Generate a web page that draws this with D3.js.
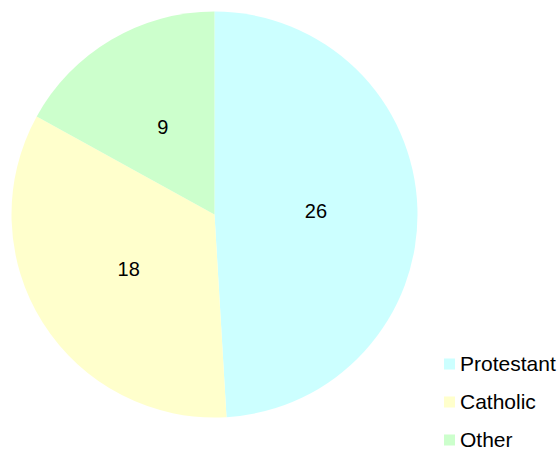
<!DOCTYPE html>
<html>
<head>
<meta charset="utf-8">
<script src="https://cdn.jsdelivr.net/npm/d3@7"></script>
<style>
  html, body { margin: 0; padding: 0; background: #fff; }
  svg text { font-family: "Liberation Sans", Arial, sans-serif; fill: #000; }
</style>
</head>
<body>
<svg id="chart"></svg>
<script>
'use strict';

var categories = ['Protestant', 'Catholic', 'Other'];
var values = [26, 18, 9];
var colors = ['#ccffff', '#ffffcc', '#ccffcc'];

var WIDTH = 558,
  HEIGHT = 453,
  CENTER = { x: 214.5, y: 214.5 },
  RADIUS = 203;

var svg = d3.select('#chart')
  .attr('width', WIDTH)
  .attr('height', HEIGHT);

var data = categories.map(function(c, i) {
  return { name: c, value: values[i], color: colors[i] };
});

var pie = d3.pie()
  .sort(null)
  .value(function(d) { return d.value; });

var arc = d3.arc()
  .innerRadius(0)
  .outerRadius(RADIUS);

var labelArc = d3.arc()
  .innerRadius(RADIUS / 2)
  .outerRadius(RADIUS / 2);

var g = svg.append('g')
  .attr('transform', 'translate(' + CENTER.x + ',' + CENTER.y + ')');

var slices = g.selectAll('g.slice')
  .data(pie(data))
  .enter().append('g')
  .attr('class', 'slice');

slices.append('path')
  .attr('d', arc)
  .attr('fill', function(d) { return d.data.color; });

slices.append('text')
  .attr('transform', function(d) { return 'translate(' + labelArc.centroid(d) + ')'; })
  .attr('text-anchor', 'middle')
  .attr('dy', '0.35em')
  .style('font-size', '20px')
  .text(function(d) { return d.data.value; });

// legend
var legendY = d3.scalePoint()
  .domain(categories)
  .range([364, 440]);

var legend = svg.append('g')
  .attr('class', 'legend');

var items = legend.selectAll('g')
  .data(data)
  .enter().append('g')
  .attr('transform', function(d) { return 'translate(444,' + legendY(d.name) + ')'; });

items.append('rect')
  .attr('x', 0)
  .attr('y', -5.5)
  .attr('width', 11)
  .attr('height', 11)
  .attr('fill', function(d) { return d.color; });

items.append('text')
  .attr('x', 16)
  .attr('dy', '0.35em')
  .style('font-size', '21px')
  .text(function(d) { return d.name; });
</script>
</body>
</html>
